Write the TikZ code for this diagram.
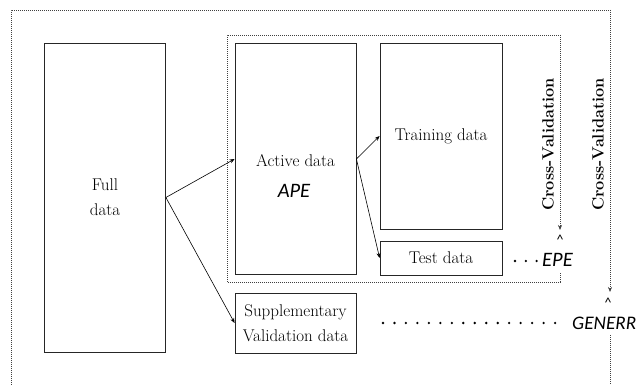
\documentclass[tikz,border=0pt]{standalone}
\usepackage{fontspec}
\newfontfamily\carlito{Carlito}
\usetikzlibrary{arrows.meta}
\tikzset{
  box/.style={draw=black!85, line width=0.8pt, inner sep=0pt, anchor=center, align=center,
              font=\fontsize{17}{25}\selectfont},
  lbl/.style={inner sep=0pt, font=\fontsize{17}{25}\selectfont},
  err/.style={inner sep=0pt, font=\carlito\itshape\fontsize{20.5}{24}\selectfont},
  hatmark/.style={inner sep=0pt, font=\carlito\fontsize{14}{16}\selectfont},
  cv/.style={inner sep=0pt, rotate=90, font=\bfseries\fontsize{16.3}{19}\selectfont},
  dotframe/.style={draw=black!75, line width=0.7pt, dash pattern=on 1pt off 1pt},
  arr/.style={-{Stealth[length=5pt,width=4pt]}, line width=0.6pt},
  dotrow/.style={draw=black, line width=2.6pt, line cap=round, dash pattern=on 0pt off 10.8pt},
}
\begin{document}
\begin{tikzpicture}[x=1pt,y=-1pt]
\useasboundingbox (0,0) rectangle (640,385);

% boxes
\node[box, minimum width=121pt, minimum height=309pt] (full) at (105,197.5) {Full\\data};
\node[box, minimum width=121pt, minimum height=231pt] (active) at (295.5,159) {};
\node[box, minimum width=122pt, minimum height=186pt] (train) at (441,136) {Training data};
\node[box, minimum width=122pt, minimum height=34pt] (test) at (441,258) {Test data};
\node[box, minimum width=121pt, minimum height=60pt] (supp) at (295.5,323) {Supplementary\\Validation data};

% texts inside active
\node[lbl, anchor=base] (activetxt) at (295.5,166.5) {Active data};
\node[err, anchor=base] (ape) at (294,197) {APE};

% error labels
\node[err, anchor=base west] (epe) at (542,266.5) {EPE};
\node[hatmark] (epehat) at (560,240) {\textasciicircum};
\node[err, anchor=base west, font=\carlito\itshape\fontsize{19.2}{23}\selectfont] (generr) at (572,329) {GENERR};
\node[hatmark] (genhat) at (608,303) {\textasciicircum};

% cross-validation labels
\node[cv] (cvin) at (548,144.5) {Cross-Validation};
\node[cv] (cvout) at (598,144.5) {Cross-Validation};

% frame coordinates
\coordinate (iBL) at (227,282);
\coordinate (iTL) at (227,35);
\coordinate (iTR) at (560,35);
\coordinate (iBR) at (560,282);
\coordinate (iRes) at (560,273);
\coordinate (epetip) at (560,230);
\coordinate (oBL) at (11,385);
\coordinate (oTL) at (11,10);
\coordinate (oTR) at (610,10);
\coordinate (oBR) at (610,385);
\coordinate (oRes) at (610,335);
\coordinate (gentip) at (610,292);

% inner dotted frame
\draw[dotframe] (iRes) -- (iBR) -- (iBL) -- (iTL) -- (iTR);
\draw[dotframe, arr] (iTR) -- (epetip);
% outer dotted frame
\draw[dotframe] (oRes) -- (oBR);
\draw[dotframe] (oBL) -- (oTL) -- (oTR);
\draw[dotframe, arr] (oTR) -- (gentip);

% arrows
\draw[arr] (full.east) -- (active.west);
\draw[arr] (full.east) -- (supp.west);
\draw[arr] (active.east) -- (train.west);
\draw[arr] (active.east) -- (test.west);

% dotted leaders
\coordinate (d1s) at (515,261);
\coordinate (d1e) at (537,261);
\draw[dotrow] (d1s) -- (d1e);
\coordinate (d2s) at (383,323);
\coordinate (d2e) at (556,323);
\draw[dotrow, dash pattern=on 0pt off 11.47pt] (d2s) -- (d2e);
\end{tikzpicture}
\end{document}
